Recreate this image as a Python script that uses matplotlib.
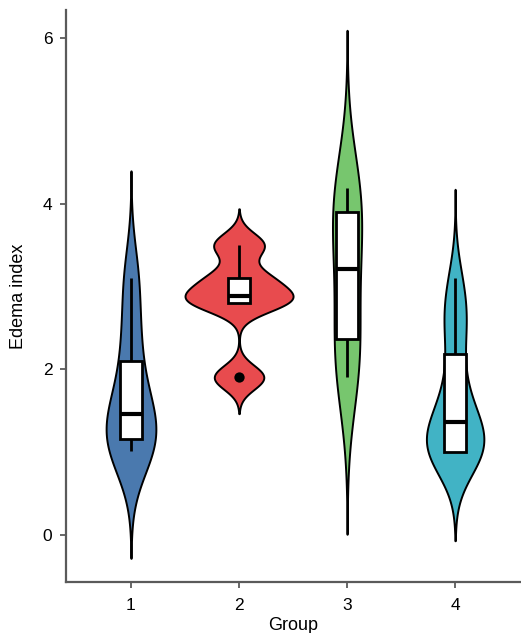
import numpy as np
import matplotlib.pyplot as plt

plt.rcParams['font.family'] = ['Liberation Sans', 'DejaVu Sans']

groups = ["1", "2", "3", "4"]
colors = ["#4A79AE", "#E84B4E", "#77C66E", "#41B3C5"]

edema_g1 = [1.01, 1.10, 1.20, 1.455, 1.80, 2.40, 3.10]
edema_g2 = [1.90, 2.80, 2.88, 3.10, 3.50]
edema_g3 = [1.91, 2.36, 3.21, 3.895, 4.19]
edema_g4 = [1.0, 1.0, 1.0, 1.0, 1.0, 1.0, 1.05, 1.12, 1.2, 1.3,
            1.42, 1.5, 1.62, 1.8, 2.1, 2.42, 2.55, 2.7, 2.9, 3.1]
edema = [edema_g1, edema_g2, edema_g3, edema_g4]

VIOLIN_WIDTH = 1.0
BOX_WIDTH = 0.2


def bw_nrd0(x):
    x = np.asarray(x)
    iqr = np.subtract(*np.percentile(x, [75, 25]))
    lo = min(np.std(x, ddof=1), iqr / 1.34)
    return 0.9 * lo * len(x) ** -0.2


def kde(x, bw):
    # gaussian kde, extended 3 bandwidths past the data (untrimmed violin)
    x = np.asarray(x)
    grid = np.linspace(x.min() - 3 * bw, x.max() + 3 * bw, 512)
    z = (grid[:, None] - x[None, :]) / bw
    dens = np.exp(-0.5 * z ** 2).sum(axis=1) / (len(x) * bw * np.sqrt(2 * np.pi))
    return grid, dens


fig = plt.figure(figsize=(5.21, 6.33), dpi=100)
ax = fig.add_axes([0.127, 0.081, 0.871, 0.903])

curves = [kde(v, bw_nrd0(v)) for v in edema]
dmax = max(d.max() for _, d in curves)

for i, ((grid, dens), vals) in enumerate(zip(curves, edema)):
    pos = i + 1
    half = dens / dmax * VIOLIN_WIDTH / 2
    ax.fill_betweenx(grid, pos - half, pos + half, facecolor=colors[i],
                     edgecolor="black", linewidth=1.4, zorder=2)

    # boxplot on top of the violin
    v = np.asarray(vals)
    q1, med, q3 = np.percentile(v, [25, 50, 75])
    iqr = q3 - q1
    inside = v[(v >= q1 - 1.5 * iqr) & (v <= q3 + 1.5 * iqr)]
    lo_w, hi_w = inside.min(), inside.max()
    out = v[(v < q1 - 1.5 * iqr) | (v > q3 + 1.5 * iqr)]
    ax.plot([pos, pos], [q3, hi_w], color="black", lw=2, zorder=3,
            solid_capstyle="butt")
    ax.plot([pos, pos], [lo_w, q1], color="black", lw=2, zorder=3,
            solid_capstyle="butt")
    ax.add_patch(plt.Rectangle((pos - BOX_WIDTH / 2, q1), BOX_WIDTH, iqr,
                               facecolor="white", edgecolor="black",
                               lw=2, zorder=4))
    ax.plot([pos - BOX_WIDTH / 2, pos + BOX_WIDTH / 2], [med, med],
            color="black", lw=3, zorder=5, solid_capstyle="butt")
    ax.scatter(np.full(len(out), pos), out, s=55, color="black", zorder=5,
               linewidths=0)

ax.set_xlim(0.4, 4.6)
ax.set_ylim(-0.57, 6.34)
ax.set_xticks(range(1, 5))
ax.set_xticklabels(groups)
ax.set_yticks([0, 2, 4, 6])

for side in ["top", "right"]:
    ax.spines[side].set_visible(False)
for side in ["left", "bottom"]:
    ax.spines[side].set_color("#5a5a5a")
    ax.spines[side].set_linewidth(1.6)
ax.tick_params(axis="both", colors="#5a5a5a", length=4, width=1.3,
               labelsize=12.5, labelcolor="black")
ax.tick_params(axis="x", pad=7.5)
ax.tick_params(axis="y", pad=6)

ax.set_xlabel("Group", fontsize=13)
ax.set_ylabel("Edema index", fontsize=13)
ax.xaxis.set_label_coords(0.5, -0.061)
ax.yaxis.set_label_coords(-0.105, 0.5)
ax.yaxis.label.set_va("center")

fig.savefig("out.png", dpi=100)
